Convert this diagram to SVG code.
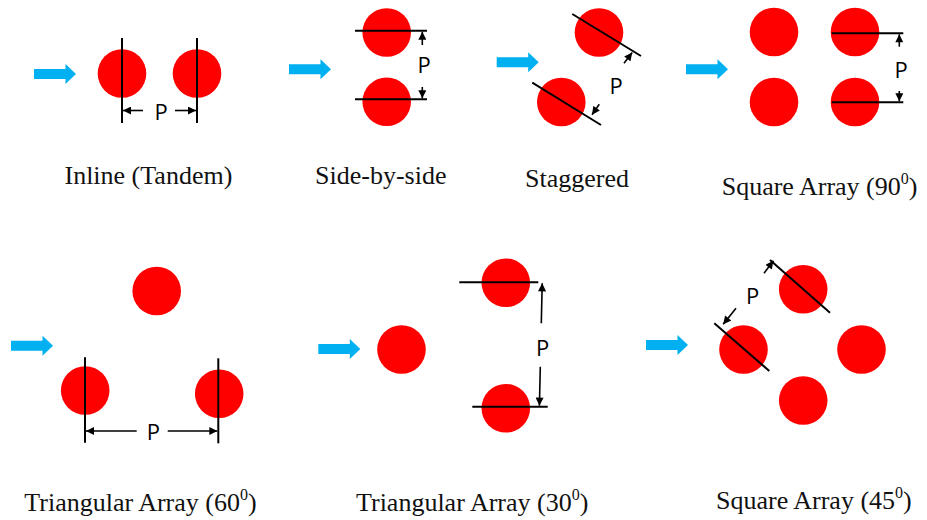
<svg xmlns="http://www.w3.org/2000/svg" width="927" height="520" viewBox="0 0 927 520">
  <defs>
    <style>
      .cyl { fill: #ff0000; }
      .flow { fill: #00b0f0; }
      .ref { stroke: #000; stroke-width: 2; fill: none; }
      .dim { stroke: #000; stroke-width: 1.6; fill: none; marker-end: url(#tip); }
      .p { font-family: "Open Sans", "Noto Sans", sans-serif; font-size: 22px; fill: #000; text-anchor: middle; dominant-baseline: central; }
      .cap { font-family: "Liberation Serif", "Times New Roman", serif; font-size: 26px; fill: #111; }
      .sup { font-size: 16px; }
    </style>
    <marker id="tip" viewBox="0 0 10 10" refX="10" refY="5" markerWidth="9" markerHeight="8" markerUnits="userSpaceOnUse" orient="auto">
      <path d="M0,0 L10,5 L0,10 Z" fill="#000"/>
    </marker>
    <path id="flowArrow" class="flow" d="M0,-5 H31.5 V-10 L42,0 L31.5,10 V5 H0 Z"/>
  </defs>

  <rect width="927" height="520" fill="#fff"/>

  <!-- Inline (Tandem) -->
  <g id="inline">
    <use href="#flowArrow" x="34" y="74"/>
    <circle class="cyl" cx="122" cy="73.5" r="24.3"/>
    <circle class="cyl" cx="197" cy="73.5" r="24.3"/>
    <text class="cap" x="148.4" y="184" text-anchor="middle">Inline (Tandem)</text>
  </g>

  <!-- Side-by-side -->
  <g id="side-by-side">
    <use href="#flowArrow" x="289" y="69.3"/>
    <circle class="cyl" cx="386.7" cy="32.5" r="24.3"/>
    <circle class="cyl" cx="386.7" cy="101.7" r="24.3"/>
    <text class="cap" x="380.8" y="184" text-anchor="middle">Side-by-side</text>
  </g>

  <!-- Staggered -->
  <g id="staggered">
    <use href="#flowArrow" x="496.7" y="62.3"/>
    <circle class="cyl" cx="599" cy="32.5" r="24.3"/>
    <circle class="cyl" cx="561.3" cy="102" r="24.3"/>
    <text class="cap" x="577" y="187" text-anchor="middle">Staggered</text>
  </g>

  <!-- Square array, 90 degrees -->
  <g id="square-90">
    <use href="#flowArrow" x="686" y="69.3"/>
    <circle class="cyl" cx="774" cy="32" r="24.3"/>
    <circle class="cyl" cx="855" cy="32" r="24.3"/>
    <circle class="cyl" cx="774" cy="102" r="24.3"/>
    <circle class="cyl" cx="855" cy="102" r="24.3"/>
    <text class="cap" x="721.7" y="195">Square Array (90<tspan class="sup" dy="-11">0</tspan><tspan dy="11">)</tspan></text>
  </g>

  <!-- Triangular array, 60 degrees -->
  <g id="triangular-60">
    <use href="#flowArrow" x="11" y="345.7"/>
    <circle class="cyl" cx="156.7" cy="291" r="24.3"/>
    <circle class="cyl" cx="85.2" cy="390.5" r="24.3"/>
    <circle class="cyl" cx="219.2" cy="393.8" r="24.3"/>
    <text class="cap" x="24.3" y="511">Triangular Array (60<tspan class="sup" dy="-11">0</tspan><tspan dy="11">)</tspan></text>
  </g>

  <!-- Triangular array, 30 degrees -->
  <g id="triangular-30">
    <use href="#flowArrow" x="318.3" y="349"/>
    <circle class="cyl" cx="401.5" cy="349.5" r="24.3"/>
    <circle class="cyl" cx="505.8" cy="282.8" r="24.3"/>
    <circle class="cyl" cx="505.8" cy="408.3" r="24.3"/>
    <text class="cap" x="356" y="511">Triangular Array (30<tspan class="sup" dy="-11">0</tspan><tspan dy="11">)</tspan></text>
  </g>

  <!-- Square array, 45 degrees -->
  <g id="square-45">
    <use href="#flowArrow" x="646" y="345"/>
    <circle class="cyl" cx="803.2" cy="289.2" r="24.3"/>
    <circle class="cyl" cx="743.5" cy="349.5" r="24.3"/>
    <circle class="cyl" cx="861.5" cy="349.5" r="24.3"/>
    <circle class="cyl" cx="803.2" cy="400.5" r="24.3"/>
    <text class="cap" x="716" y="509">Square Array (45<tspan class="sup" dy="-11">0</tspan><tspan dy="11">)</tspan></text>
  </g>

  <!-- Pitch reference lines and dimension arrows -->
  <g id="connectors">
    <!-- inline -->
    <line class="ref" x1="122" y1="38" x2="122" y2="123"/>
    <line class="ref" x1="197" y1="38" x2="197" y2="123"/>
    <line class="dim" x1="143" y1="110.5" x2="123" y2="110.5"/>
    <line class="dim" x1="175" y1="110.5" x2="196" y2="110.5"/>
    <text class="p" x="161" y="111">P</text>

    <!-- side-by-side -->
    <line class="ref" x1="355" y1="30.7" x2="427" y2="30.7"/>
    <line class="ref" x1="355" y1="99.3" x2="427" y2="99.3"/>
    <line class="dim" x1="422.3" y1="45" x2="422.3" y2="31.7"/>
    <line class="dim" x1="422.3" y1="87" x2="422.3" y2="98.3"/>
    <text class="p" x="424" y="63.5">P</text>

    <!-- staggered -->
    <line class="ref" x1="572.3" y1="14" x2="641" y2="56"/>
    <line class="ref" x1="532.3" y1="82.7" x2="601" y2="125"/>
    <line class="dim" x1="624" y1="63.3" x2="632.2" y2="52.6"/>
    <line class="dim" x1="599.3" y1="104.3" x2="592" y2="114.7"/>
    <text class="p" x="616" y="85">P</text>

    <!-- square 90 -->
    <line class="ref" x1="831.7" y1="33.3" x2="903.3" y2="33.3"/>
    <line class="ref" x1="831.7" y1="102.3" x2="903.3" y2="102.3"/>
    <line class="dim" x1="899.3" y1="46.7" x2="899.3" y2="34.3"/>
    <line class="dim" x1="899.3" y1="91" x2="899.3" y2="101.3"/>
    <text class="p" x="901" y="68.5">P</text>

    <!-- triangular 60 -->
    <line class="ref" x1="85" y1="357.3" x2="85" y2="442.7"/>
    <line class="ref" x1="218.3" y1="358.3" x2="218.3" y2="443.3"/>
    <line class="dim" x1="136.7" y1="431" x2="86" y2="431"/>
    <line class="dim" x1="167.7" y1="431" x2="217.3" y2="431"/>
    <text class="p" x="153.3" y="431">P</text>

    <!-- triangular 30 -->
    <line class="ref" x1="459.3" y1="282.3" x2="538.3" y2="282.3"/>
    <line class="ref" x1="472.3" y1="406.7" x2="547.7" y2="406.7"/>
    <line class="dim" x1="541.3" y1="323.3" x2="542.2" y2="283.3"/>
    <line class="dim" x1="540.3" y1="366.7" x2="539.4" y2="405.7"/>
    <text class="p" x="542.7" y="346.7">P</text>

    <!-- square 45 -->
    <line class="ref" x1="770" y1="260" x2="830" y2="312.7"/>
    <line class="ref" x1="714.3" y1="323.3" x2="769.3" y2="371"/>
    <line class="dim" x1="764" y1="273.3" x2="773.4" y2="260.8"/>
    <line class="dim" x1="736" y1="308.3" x2="723.2" y2="324.3"/>
    <text class="p" x="752.7" y="295">P</text>
  </g>
</svg>
